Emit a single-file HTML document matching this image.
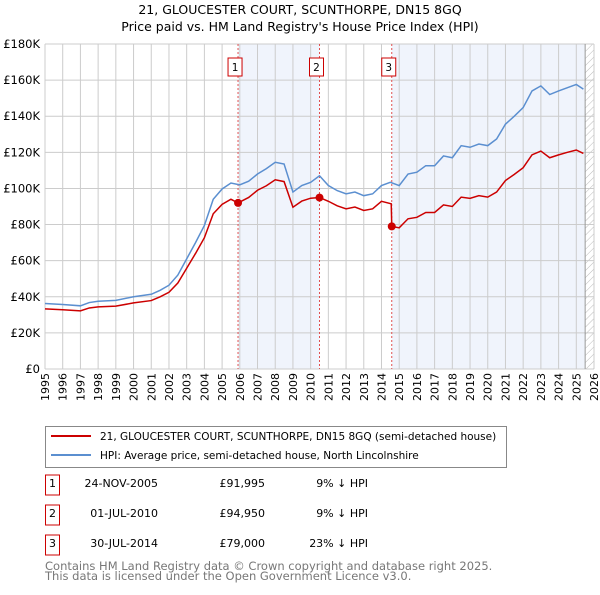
<!DOCTYPE html>
<html><head><meta charset="utf-8"><style>
body{margin:0;background:#fff;font-family:"Liberation Sans","DejaVu Sans",sans-serif;}
svg text{font-family:"DejaVu Sans","Liberation Sans",sans-serif;}
</style></head><body>
<svg id="c" width="600" height="590" xmlns="http://www.w3.org/2000/svg">
<defs><pattern id="h" width="5" height="5" patternUnits="userSpaceOnUse" patternTransform="rotate(45)"><line x1="0" y1="0" x2="0" y2="5" stroke="#bbb" stroke-width="1"/></pattern></defs>
<text x="300" y="14" text-anchor="middle" font-size="12.5">21, GLOUCESTER COURT, SCUNTHORPE, DN15 8GQ</text>
<text x="300" y="31" text-anchor="middle" font-size="12.5">Price paid vs. HM Land Registry's House Price Index (HPI)</text>
<g id="plot"></g>
<g>
<rect x="45.5" y="426.5" width="461" height="41" fill="#fff" stroke="#888"/>
<line x1="51" y1="436" x2="91" y2="436" stroke="#cc0000" stroke-width="2"/>
<text x="100" y="440" font-size="10.5">21, GLOUCESTER COURT, SCUNTHORPE, DN15 8GQ (semi-detached house)</text>
<line x1="51" y1="455" x2="91" y2="455" stroke="#5b8fd0" stroke-width="2"/>
<text x="100" y="459" font-size="10.5">HPI: Average price, semi-detached house, North Lincolnshire</text>
</g>
<g id="tbl" font-size="11"></g>
<text x="45" y="570" font-size="11.5" fill="#777">Contains HM Land Registry data © Crown copyright and database right 2025.</text>
<text x="45" y="580" font-size="11.5" fill="#777">This data is licensed under the Open Government Licence v3.0.</text>
</svg>
<script>
const hpiYears=[1995,1996,1997,1997.5,1998,1999,2000,2001,2001.5,2002,2002.5,2003,2003.5,2004,2004.5,2005,2005.5,2006,2006.5,2007,2007.5,2008,2008.5,2009,2009.5,2010,2010.5,2011,2011.5,2012,2012.5,2013,2013.5,2014,2014.5,2015,2015.5,2016,2016.5,2017,2017.5,2018,2018.5,2019,2019.5,2020,2020.5,2021,2021.5,2022,2022.5,2023,2023.5,2024,2024.5,2025,2025.4];
const hpiValues=[36.3,35.7,35,36.8,37.5,38,40,41.4,43.6,46.4,52,61,70,79.5,94,99.7,103,102,104,108,111,114.5,113.5,98,101.6,103.4,107,101.6,98.8,97,98,96,97,101.6,103.4,101.6,108,109,112.6,112.6,118,117,123.7,122.8,124.6,123.7,127.4,135.6,140,144.8,154,156.8,152,154,155.8,157.6,155];
const priceYears=[1995,1996,1997,1997.5,1998,1999,2000,2001,2001.5,2002,2002.5,2003,2003.5,2004,2004.5,2005,2005.5,2005.9,2006.5,2007,2007.5,2008,2008.5,2009,2009.5,2010,2010.5,2011,2011.5,2012,2012.5,2013,2013.5,2014,2014.55,2014.58,2015,2015.5,2016,2016.5,2017,2017.5,2018,2018.5,2019,2019.5,2020,2020.5,2021,2021.5,2022,2022.5,2023,2023.5,2024,2024.5,2025,2025.4];
const priceValues=[33.3,32.8,32.2,33.8,34.4,34.8,36.6,37.9,40,42.5,47.6,55.8,64,72.7,86,91.2,94,92,95,99,101.5,104.8,103.8,89.6,93,94.6,95,92.9,90.4,88.7,89.7,87.8,88.7,92.9,91.5,79,78.2,83.2,84,86.7,86.7,90.9,90,95.2,94.5,96,95.2,98,104.4,107.8,111.5,118.6,120.7,117,118.6,120,121.3,119.4];
const saleYears=[2005.9,2010.5,2014.58];
const saleValues=[91.995,94.95,79];
const saleLabels=["1","2","3"];
const saleDates=["24-NOV-2005","01-JUL-2010","30-JUL-2014"];
const salePrices=["£91,995","£94,950","£79,000"];
const salePct=["9% ↓ HPI","9% ↓ HPI","23% ↓ HPI"];
const yTicks=[0,20,40,60,80,100,120,140,160,180];
const yTickLabels=["£0","£20K","£40K","£60K","£80K","£100K","£120K","£140K","£160K","£180K"];
const xTicks=[1995,1996,1997,1998,1999,2000,2001,2002,2003,2004,2005,2006,2007,2008,2009,2010,2011,2012,2013,2014,2015,2016,2017,2018,2019,2020,2021,2022,2023,2024,2025,2026];

const L=45,R=594,T=44,B=369;
const X=y=>L+(y-1995)/(2026-1995)*(R-L);
const Y=v=>B-v/180*(B-T);
const NS='http://www.w3.org/2000/svg';
const plot=document.getElementById('plot');
function mk(tag,attrs,parent){const e=document.createElementNS(NS,tag);for(const k in attrs)e.setAttribute(k,attrs[k]);(parent||plot).appendChild(e);return e;}
let e;
e=mk('rect',{x:X(saleYears[0]),y:T,width:X(saleYears[1])-X(saleYears[0]),height:B-T,fill:'#f0f4fc'});


e=mk('rect',{x:X(saleYears[2]),y:T,width:X(2025.5)-X(saleYears[2]),height:B-T,fill:'#f0f4fc'});


e=mk('rect',{x:X(2025.5),y:T,width:R-X(2025.5),height:B-T,fill:'url(#h)'});


xTicks.forEach(t=>{
 e=mk('line',{x1:X(t),x2:X(t),y1:T,y2:B,stroke:'#ccc','stroke-width':1});
 
 
 e=mk('text',{x:0,y:0,transform:`translate(${X(t)+4},${B+4}) rotate(-90)`,'text-anchor':'end','font-size':11});
 e.textContent=t;
 
 
});
yTicks.forEach((t,i)=>{
 e=mk('line',{x1:L,x2:R,y1:Y(t),y2:Y(t),stroke:'#ccc','stroke-width':1});
 
 
 e=mk('text',{x:L-5,y:Y(t)+4,'text-anchor':'end','font-size':11.5});
 e.textContent=yTickLabels[i];
 
 
});
e=mk('line',{x1:X(2025.5),x2:X(2025.5),y1:T,y2:B,stroke:'#999','stroke-width':1});


saleYears.forEach((s,i)=>{
 e=mk('line',{x1:X(s),x2:X(s),y1:T,y2:B,stroke:'#e05050','stroke-width':1,'stroke-dasharray':'2,2'});
 
 
 e=mk('rect',{x:X(s)-10,y:58,width:14,height:18,fill:'#fff',stroke:'#cc0000'});
 
 
 e=mk('text',{x:X(s)-3,y:71,'text-anchor':'middle','font-size':10.5});
 e.textContent=saleLabels[i];
 
 
});
e=mk('polyline',{points:hpiYears.map((y,i)=>X(y)+','+Y(hpiValues[i])).join(' '),fill:'none',stroke:'#5b8fd0','stroke-width':1.5});


e=mk('polyline',{points:priceYears.map((y,i)=>X(y)+','+Y(priceValues[i])).join(' '),fill:'none',stroke:'#cc0000','stroke-width':1.5});


saleYears.forEach((s,i)=>{
 e=mk('circle',{cx:X(s),cy:Y(saleValues[i]),r:4,fill:'#cc0000'});
 
 
});
const tbl=document.getElementById('tbl');
saleLabels.forEach((l,i)=>{
 const y=[483,513,543][i];
 e=mk('rect',{x:45.5,y:y-8,width:14,height:20,fill:'#fff',stroke:'#cc0000'},tbl);
 
 
 e=mk('text',{x:52.5,y:y+4,'text-anchor':'middle'},tbl);e.textContent=l;
 
 
 e=mk('text',{x:158,y:y+4,'text-anchor':'end'},tbl);e.textContent=saleDates[i];
 
 
 e=mk('text',{x:265,y:y+4,'text-anchor':'end'},tbl);e.textContent=salePrices[i];
 
 
 e=mk('text',{x:368,y:y+4,'text-anchor':'end'},tbl);e.textContent=salePct[i];
 
 
});
</script>
</body></html>
